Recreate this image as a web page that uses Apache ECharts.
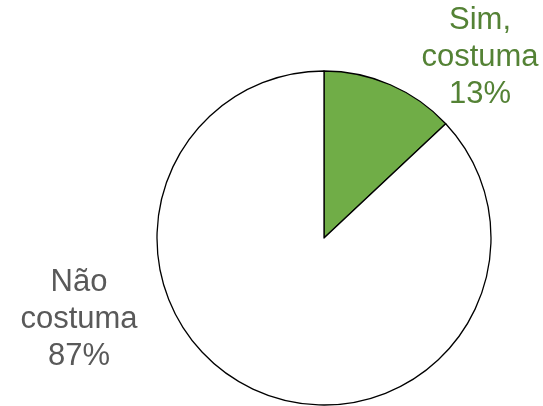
<!DOCTYPE html>
<html><head><meta charset="utf-8">
<script src="https://cdn.jsdelivr.net/npm/echarts@6/dist/echarts.min.js"></script>
<style>html,body{margin:0;padding:0;background:#fff}#c{width:543px;height:406px}</style>
</head><body><div id="c"></div>
<script>
const categories = ['Sim,\ncostuma', 'Não\ncostuma'];
const values = [13, 87];
const colors = ['#70AD47', '#FFFFFF'];
const labelColors = ['#548235', '#595959'];
const labelPos = [[480, 57], [79, 319]];

const chart = echarts.init(document.getElementById('c'), null, {renderer: 'canvas'});
chart.setOption({
  animation: false,
  series: [{
    type: 'pie',
    center: [324, 238],
    radius: [0, 167],
    startAngle: 90,
    clockwise: true,
    silent: true,
    avoidLabelOverlap: false,
    itemStyle: {borderColor: '#000', borderWidth: 1.3},
    label: {
      show: true,
      position: 'outside',
      formatter: p => p.name + '\n' + p.value + '%',
      fontFamily: 'Liberation Sans, Arial, sans-serif',
      fontSize: 31,
      lineHeight: 37,
      align: 'center',
      overflow: 'none',
      width: 200
    },
    labelLine: {show: false},
    labelLayout: function (params) {
      const p = labelPos[params.dataIndex];
      return {x: p[0], y: p[1], align: 'center', verticalAlign: 'middle'};
    },
    data: categories.map((c, i) => ({
      name: c, value: values[i],
      itemStyle: {color: colors[i]},
      label: {color: labelColors[i]}
    }))
  }]
});
</script></body></html>
